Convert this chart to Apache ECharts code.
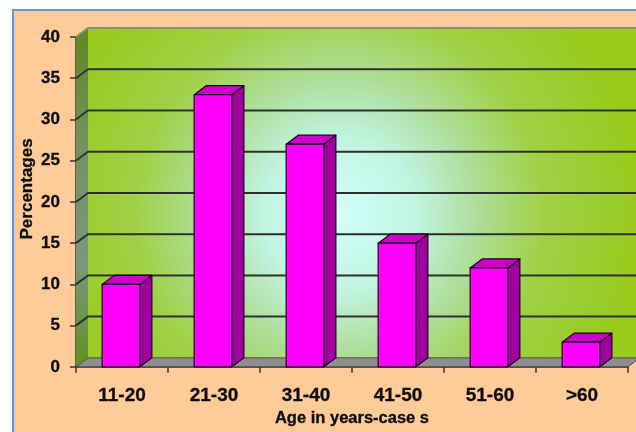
<!DOCTYPE html>
<html>
<head>
<meta charset="utf-8">
<script src="https://cdn.jsdelivr.net/npm/echarts@6/dist/echarts.min.js"></script>
<style>
  html, body { margin: 0; padding: 0; background: #ffffff; }
  #wrap { position: relative; width: 636px; height: 432px; overflow: hidden; }
  #panel { position: absolute; left: 12px; top: 9px; width: 700px; height: 500px;
           background: #ffcc99; border: 2px solid #5b9bd5; }
  #chart { position: absolute; left: 0; top: 0; width: 636px; height: 432px; }
</style>
</head>
<body>
<div id="wrap">
  <div id="panel"></div>
  <div id="chart"></div>
</div>
<script>
// Age groups and share of cases (%)
const categories = ['11-20', '21-30', '31-40', '41-50', '51-60', '>60'];
const percentages = [10, 33, 27, 15, 12, 3];
// Horizontal guide lines drawn on the back wall
const gridValues = [5, 10, 15, 20, 25, 30, 35];

const FONT = '"Liberation Sans", Arial, sans-serif';
// 3D depth offset of the back plane and of each bar
const DX = 12, DY = -9;

const chart = echarts.init(document.getElementById('chart'), null, { renderer: 'canvas' });

function renderWalls(params, api) {
  const cs = params.coordSys;
  const x0 = cs.x, x1 = cs.x + cs.width;
  const yTop = cs.y, yBot = cs.y + cs.height;
  const wallFill = {
    type: 'radial', x: 340, y: 215, r: 300, global: true,
    colorStops: [
      { offset: 0, color: '#d2fff8' },
      { offset: 0.25, color: '#c2f4e2' },
      { offset: 0.45, color: '#aedf9c' },
      { offset: 0.68, color: '#9fd146' },
      { offset: 1, color: '#98cb1c' }
    ]
  };
  const sideFill = {
    type: 'linear', x: 0, y: 0, x2: 0, y2: 1,
    colorStops: [
      { offset: 0, color: '#5c8920' },
      { offset: 0.35, color: '#74935f' },
      { offset: 0.7, color: '#78987f' },
      { offset: 1, color: '#5e921c' }
    ]
  };
  return {
    type: 'group',
    children: [
      { type: 'polygon', shape: { points: [[x0 + DX, yTop + DY], [x1 + DX, yTop + DY], [x1 + DX, yBot + DY], [x0 + DX, yBot + DY]] },
        style: { fill: wallFill } },
      { type: 'polygon', shape: { points: [[x0, yTop], [x0 + DX, yTop + DY], [x0 + DX, yBot + DY], [x0, yBot]] },
        style: { fill: sideFill } },
      { type: 'polyline', shape: { points: [[x0, yTop], [x0 + DX, yTop + DY], [x1 + DX, yTop + DY]] },
        style: { stroke: '#8a8f7a', lineWidth: 2, fill: null } },
      { type: 'polygon', shape: { points: [[x0, yBot], [x0 + DX, yBot + DY], [x1 + DX, yBot + DY], [x1, yBot]] },
        style: { fill: '#8e8e8e', stroke: '#4a4a4a', lineWidth: 1 } }
    ]
  };
}

function renderGridLine(params, api) {
  const cs = params.coordSys;
  const x0 = cs.x, x1 = cs.x + cs.width;
  const y = api.coord([0, api.value(1)])[1];
  return {
    type: 'group',
    children: [
      { type: 'polyline', shape: { points: [[x0, y + 1], [x0 + DX, y + DY + 1], [x1 + DX, y + DY + 1]] },
        style: { stroke: 'rgba(255,255,255,0.25)', lineWidth: 1, fill: null } },
      { type: 'polyline', shape: { points: [[x0, y], [x0 + DX, y + DY], [x1 + DX, y + DY]] },
        style: { stroke: '#2b2f2a', lineWidth: 2, fill: null } }
    ]
  };
}

function renderBar(params, api) {
  const idx = api.value(0);
  const top = api.coord([idx, api.value(1)]);
  const base = api.coord([idx, 0]);
  const band = api.size([1, 0])[0];
  const w = band * 0.41;
  const xl = top[0] - w / 2 - 1, xr = xl + w;
  const yt = top[1], yb = base[1];
  const edge = { stroke: '#1a001a', lineWidth: 1.2, lineJoin: 'round' };
  return {
    type: 'group',
    children: [
      { type: 'polygon', shape: { points: [[xr, yt], [xr + DX, yt + DY], [xr + DX, yb + DY], [xr, yb]] },
        style: Object.assign({ fill: '#a000a0' }, edge) },
      { type: 'polygon', shape: { points: [[xl, yt], [xl + DX, yt + DY], [xr + DX, yt + DY], [xr, yt]] },
        style: Object.assign({ fill: '#cc00cc' }, edge) },
      { type: 'rect', shape: { x: xl, y: yt, width: w, height: yb - yt },
        style: Object.assign({ fill: '#ff00ff' }, edge) }
    ]
  };
}

const textBase = { fontFamily: FONT, fontWeight: 'bold', color: '#0d0d0d', textBorderColor: '#0d0d0d', textBorderWidth: 0.3 };

chart.setOption({
  backgroundColor: 'transparent',
  animation: false,
  grid: { left: 76, right: 8, top: 37, bottom: 63 },
  xAxis: {
    type: 'category',
    data: categories,
    name: 'Age in years-case s',
    nameLocation: 'middle',
    nameGap: 43,
    nameMoveOverlap: false,
    nameTextStyle: Object.assign({ fontSize: 16.5 }, textBase),
    axisLine: { show: true, lineStyle: { color: '#333', width: 1.5 } },
    axisTick: { show: true, length: 6, lineStyle: { color: '#333', width: 1.5 } },
    axisLabel: Object.assign({ margin: 19, fontSize: 19 }, textBase),
    splitLine: { show: false }
  },
  yAxis: {
    type: 'value',
    min: 0, max: 40, interval: 5,
    name: 'Percentages',
    nameLocation: 'middle',
    nameGap: 40,
    nameMoveOverlap: false,
    nameTextStyle: Object.assign({ fontSize: 17, padding: [0, 0, 0, 26] }, textBase),
    axisLine: { show: true, lineStyle: { color: '#333', width: 1.5 } },
    axisTick: { show: true, length: 6, lineStyle: { color: '#333', width: 1.5 } },
    axisLabel: Object.assign({ margin: 16, fontSize: 17 }, textBase),
    splitLine: { show: false }
  },
  series: [
    { type: 'custom', name: 'walls', z: 1, silent: true, renderItem: renderWalls, data: [[0, 0]] },
    { type: 'custom', name: 'gridlines', z: 2, silent: true, renderItem: renderGridLine,
      data: gridValues.map(v => [0, v]) },
    { type: 'custom', name: 'Percentages', z: 3, renderItem: renderBar,
      data: percentages.map((v, i) => [i, v]) }
  ]
});
</script>
</body>
</html>
